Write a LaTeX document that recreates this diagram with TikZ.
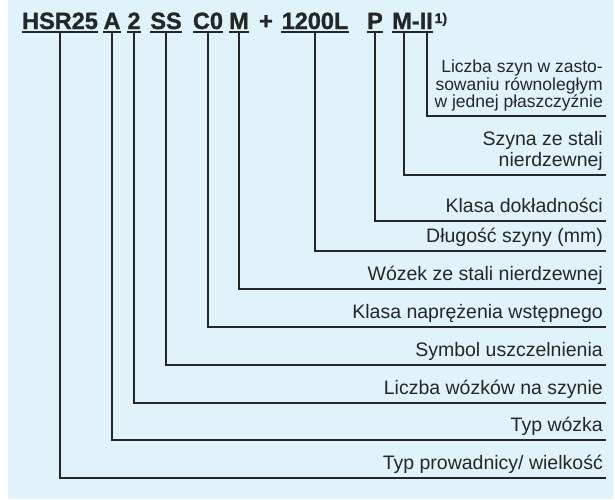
\documentclass[tikz,border=0pt]{standalone}
\usepackage{fontspec}
\setmainfont{Liberation Sans}
\newfontfamily\codefont{Liberation Sans Bold}[FakeBold=1.2]
\definecolor{bgblue}{HTML}{E0F3FB}
\definecolor{ink}{HTML}{262626}
\tikzset{
  code/.style={font=\codefont\fontsize{23.5}{24}\selectfont, text=ink, anchor=base, inner xsep=0pt, inner ysep=3pt, text depth=0pt},
  lab/.style={font=\fontsize{19.5}{21}\selectfont, text=ink, align=right, anchor=south east, inner xsep=3pt, inner ysep=8pt, text depth=0pt},
  smalllab/.style={lab, font=\fontsize{17.5}{17.5}\selectfont},
  lead/.style={draw=ink, line width=1.2pt},
  uline/.style={draw=ink, line width=1.6pt}
}
\begin{document}
\begin{tikzpicture}[x=1pt,y=-1pt]
    \useasboundingbox (0,0) rectangle (615,499);
    \fill[bgblue] (8,0) rectangle (613,499);

    \node[code] (tHSR) at (60,29) {HSR25};
    \node[code] (tA) at (112,29) {A};
    \node[code] (t2) at (134,29) {2};
    \node[code] (tSS) at (166,29) {SS};
    \node[code] (tC) at (208,29) {C0};
    \node[code] (tM) at (239,29) {M};
    \node[code] (tplus) at (266,29) {+};
    \node[code] (tL) at (315,29) {1200L};
    \node[code] (tP) at (375,29) {P};
    \node[code] (tMII) at (412.5,29) {M-II};
    \node[code, font=\codefont\fontsize{14}{14}\selectfont, anchor=base west] (tnote) at (434.5,23) {1)};

    \draw[uline] (tHSR.south west) -- (tHSR.south east);
    \draw[uline] (tA.south west) -- (tA.south east);
    \draw[uline] (t2.south west) -- (t2.south east);
    \draw[uline] (tSS.south west) -- (tSS.south east);
    \draw[uline] (tC.south west) -- (tC.south east);
    \draw[uline] (tM.south west) -- (tM.south east);
    \draw[uline] (tL.south west) -- (tL.south east);
    \draw[uline] (tP.south west) -- (tP.south east);
    \draw[uline] (tMII.south west) -- (tMII.south east);

    \node[smalllab] (lII) at (606,116) {Liczba szyn w zasto-\\sowaniu równoległym\\w jednej płaszczyźnie};
    \node[lab] (lMII) at (606,175) {Szyna ze stali\\nierdzewnej};
    \node[lab] (lP) at (606,221) {Klasa dokładności};
    \node[lab] (lL) at (606,251) {Długość szyny (mm)};
    \node[lab] (lM) at (606,289) {Wózek ze stali nierdzewnej};
    \node[lab] (lC) at (606,327) {Klasa naprężenia wstępnego};
    \node[lab] (lSS) at (606,365) {Symbol uszczelnienia};
    \node[lab] (l2) at (606,403) {Liczba wózków na szynie};
    \node[lab] (lA) at (606,440) {Typ wózka};
    \node[lab] (lHSR) at (606,478) {Typ prowadnicy/ wielkość};

    \draw[lead] ([xshift=-6pt]tMII.south east) |- (lII.south east);
    \draw[lead] ([xshift=12pt]tMII.south west) |- (lMII.south east);
    \draw[lead] (tP.south) |- (lP.south east);
    \draw[lead] (tL.south) |- (lL.south east);
    \draw[lead] (tM.south) |- (lM.south east);
    \draw[lead] (tC.south) |- (lC.south east);
    \draw[lead] (tSS.south) |- (lSS.south east);
    \draw[lead] (t2.south) |- (l2.south east);
    \draw[lead] (tA.south) |- (lA.south east);
    \draw[lead] (tHSR.south) |- (lHSR.south east);
\end{tikzpicture}
\end{document}
